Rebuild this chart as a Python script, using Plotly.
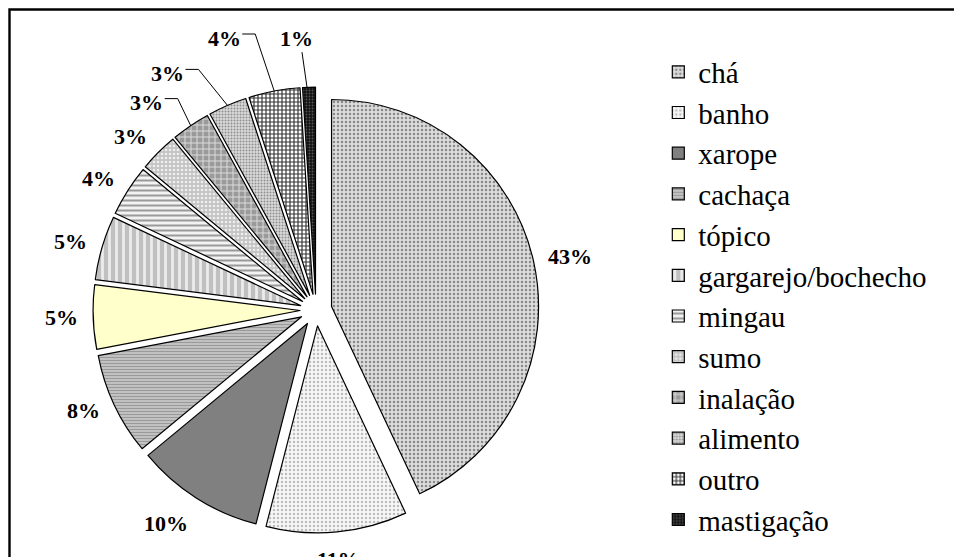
import math
import plotly.graph_objects as go

categories = ["chá", "banho", "xarope", "cachaça", "tópico", "gargarejo/bochecho",
              "mingau", "sumo", "inalação", "alimento", "outro", "mastigação"]
values = [43, 11, 10, 8, 5, 5, 4, 3, 3, 3, 4, 1]

bg_colors = ["#dcdcdc", "#f7f7f7", "#808080", "#c6c6c6", "#ffffcc", "#c0c0c0",
             "#f2f2f2", "#c4c4c4", "#9a9a9a", "#dadada", "#ffffff", "#111111"]
fg_colors = ["#8a8a8a", "#bdbdbd", "#808080", "#9a9a9a", "#ffffcc", "#ececec",
             "#9a9a9a", "#eeeeee", "#dcdcdc", "#8f8f8f", "#333333", "#555555"]
shapes = [".", ".", "", "-", "", "|", "-", ".", "+", ".", "+", "."]
sizes = [4, 4, 4, 3, 4, 7, 5, 4, 6, 3, 4, 3]
solid = [0.3, 0.3, 0.3, 0.4, 0.3, 0.4, 0.4, 0.35, 0.3, 0.35, 0.5, 0.3]

# label displacement (pixels) for the crowded labels joined by leader lines
leader_offsets = {"inalação": (-44, -23), "alimento": (-60, -32),
                  "outro": (-50, -53), "mastigação": (-12, -49)}

W, H = 962, 557
CX, CY = 308, 302          # pie centre in figure pixels
PULL = 0.077
R = 207                    # pie radius in pixels
HALF = R * (1 + PULL)


def px2paper(x, y):
    return x / W, 1 - y / H


fig = go.Figure(go.Pie(
    labels=categories,
    values=values,
    sort=False,
    direction="clockwise",
    rotation=0,
    pull=[PULL] * len(values),
    textinfo="none",
    hoverinfo="label+percent",
    marker=dict(
        colors=bg_colors,
        line=dict(color="black", width=1.2),
        pattern=dict(shape=shapes, bgcolor=bg_colors, fgcolor=fg_colors,
                     size=sizes, solidity=solid, fillmode="replace"),
    ),
    domain=dict(x=[(CX - HALF) / W, (CX + HALF) / W],
                y=[1 - (CY + HALF) / H, 1 - (CY - HALF) / H]),
    showlegend=True,
))

# percentage labels placed from the data angles
total = sum(values)
annotations = []
layout_shapes = [dict(type="rect", xref="paper", yref="paper",
                      x0=1.5 / W, x1=1.05, y0=-0.1, y1=1 - 1.5 / H,
                      line=dict(color="black", width=2.4))]
cum = 0
label_font = dict(family="Liberation Serif", size=22, color="black", weight="bold")
for cat, v in zip(categories, values):
    mid = (cum + v / 2) / total * 2 * math.pi
    cum += v
    ux, uy = math.sin(mid), -math.cos(mid)   # screen direction (y down)
    txt = "%d%%" % round(100 * v / total)
    if cat in leader_offsets:
        ex = CX + R * (1 + PULL) * ux
        ey = CY + R * (1 + PULL) * uy
        ox, oy = leader_offsets[cat]
        tx, ty = ex + ox, ey + oy
        x, y = px2paper(tx, ty)
        annotations.append(dict(x=x, y=y, xref="paper", yref="paper", text=txt,
                                showarrow=False, xanchor="center", yanchor="middle",
                                font=label_font))
        if cat == "mastigação":
            pts = [(tx + 5, ty + 14), (ex - 2, ey)]
        else:
            pts = [(tx + 18, ty - 4), (tx + 31, ty - 4), (ex, ey)]
        path = "M " + " L ".join("%.5f,%.5f" % px2paper(a, b) for a, b in pts)
        layout_shapes.append(dict(type="path", xref="paper", yref="paper", path=path,
                                  line=dict(color="black", width=1)))
    else:
        d = 236
        px, py = CX + d * ux, CY + d * uy
        xa = "left" if ux > 0.3 else ("right" if ux < -0.3 else "center")
        ya = "top" if uy > 0.75 else ("bottom" if uy < -0.75 else "middle")
        ys = -uy * 10 if (ya == "middle" and uy < 0) else 0
        x, y = px2paper(px, py)
        annotations.append(dict(x=x, y=y, xref="paper", yref="paper",
                                text=txt, showarrow=False, xanchor=xa, yanchor=ya,
                                yshift=ys, font=label_font))

fig.update_layout(
    width=W, height=H,
    margin=dict(l=0, r=0, t=0, b=0),
    paper_bgcolor="white",
    plot_bgcolor="white",
    font=dict(family="Liberation Serif", color="black"),
    legend=dict(
        x=0.676, y=0.931, xanchor="left", yanchor="top",
        font=dict(family="Liberation Serif", size=29, color="black"),
        bgcolor="rgba(0,0,0,0)",
    ),
    annotations=annotations,
    shapes=layout_shapes,
)

fig.write_html("out.html")
